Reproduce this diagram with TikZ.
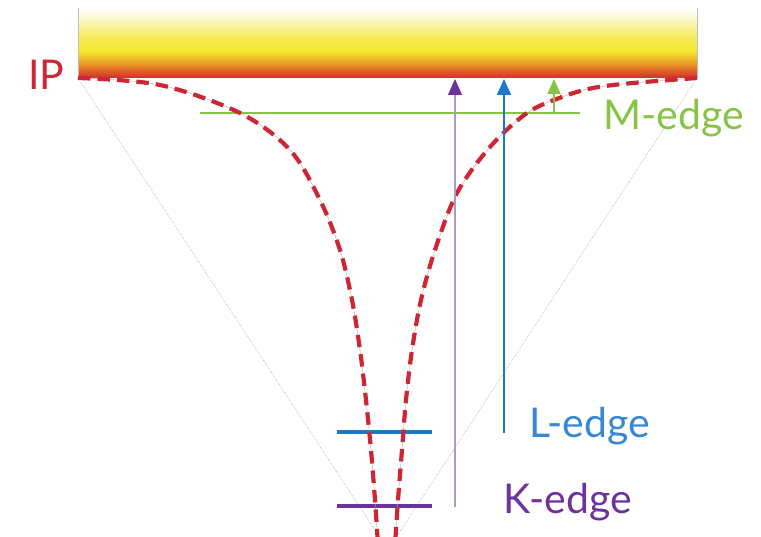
\documentclass[tikz,border=0pt]{standalone}
\usepackage{fontspec}
\setmainfont{Lato}
\usetikzlibrary{arrows.meta}
\definecolor{ipred}{RGB}{205,38,52}
\definecolor{mgreen}{RGB}{135,196,70}
\definecolor{lblue}{RGB}{30,120,200}
\definecolor{ltext}{RGB}{55,135,210}
\definecolor{kpurple}{RGB}{110,50,155}
\definecolor{klight}{RGB}{175,150,205}
\definecolor{bred}{RGB}{210,45,45}
\definecolor{bred2}{RGB}{220,85,40}
\definecolor{borange}{RGB}{232,150,40}
\definecolor{byellow}{RGB}{246,230,45}
\definecolor{byellow2}{RGB}{246,236,90}
\definecolor{bpale}{RGB}{251,246,200}
\pgfdeclareverticalshading{barshade}{100bp}{color(0bp)=(bred); color(25bp)=(bred); color(29bp)=(bred2); color(35bp)=(borange); color(44bp)=(byellow); color(54bp)=(byellow2); color(67bp)=(bpale); color(75bp)=(white); color(100bp)=(white)}
\tikzset{
  lbl/.style={inner sep=0pt, anchor=base west, font=\fontsize{41}{41}\selectfont},
  redcurve/.style={draw=ipred, line width=4.2pt, dash pattern=on 12.5pt off 7pt},
  guide/.style={draw=gray!70, line width=0.35pt},
  conegray/.style={draw=gray!65, line width=0.6pt, densely dotted},
}
\begin{document}
\begin{tikzpicture}[x=1pt,y=-1pt]
\useasboundingbox (0,0) rectangle (761,537);
\clip (0,0) rectangle (761,537);
% bar
\shade[shading=barshade] (78,8) rectangle (697,78);
\draw[gray!50, line width=0.5pt] (78,8) -- (78,78) (697,8) -- (697,78);
\coordinate (ipL) at (78,78);
\coordinate (ipR) at (697,78);
\coordinate (apex) at (388,550);
% cone lines
\draw[conegray] (ipL) -- (apex);
\draw[conegray] (ipR) -- (apex);
% level lines
\coordinate (m1) at (200,113); \coordinate (m2) at (580,113);
\coordinate (l1) at (337,432); \coordinate (l2) at (432,432);
\coordinate (k1) at (337,506); \coordinate (k2) at (432,506);
\draw[mgreen, line width=2pt] (m1) -- (m2);
\draw[lblue, line width=3.5pt] (l1) -- (l2);
\draw[kpurple, line width=4pt] (k1) -- (k2);
% potential curves
\def\leftcurve{(78,78) (160,85) (240,113) (290,150) (320,200) (340,250) (352,300) (360,350) (366,400) (371,450) (375,500) (378,545)}
\def\rightcurve{(697,78) (633,83) (593,88) (562,97) (527,113) (490,147) (457,193) (435,250) (421,300) (412,350) (406,400) (402,450) (398,500) (395,545)}
\draw[guide] plot[smooth, tension=0.55] coordinates {\leftcurve};
\draw[guide] plot[smooth, tension=0.55] coordinates {\rightcurve};
\draw[redcurve] plot[smooth, tension=0.55] coordinates {\leftcurve};
\draw[redcurve] plot[smooth, tension=0.55] coordinates {\rightcurve};
% arrows
\coordinate (kb) at (455,507); \coordinate (kt) at (455,79);
\coordinate (lb) at (504,433); \coordinate (lt) at (504,79);
\coordinate (mb) at (554,113); \coordinate (mt) at (554,79);
\draw[klight, line width=1.2pt, -{Triangle[width=14pt,length=16pt,color=kpurple]}] (kb) -- (kt);
\draw[lblue, line width=2.2pt, -{Triangle[width=14pt,length=16pt]}] (lb) -- (lt);
\draw[mgreen, line width=2pt, -{Triangle[width=13pt,length=15pt]}] (mb) -- (mt);
% labels
\node[lbl, text=ipred] (ip) at (28,90) {IP};
\node[lbl, text=mgreen] (mlab) at (603,130) {M-edge};
\node[lbl, text=ltext] (llab) at (529,438) {L-edge};
\node[lbl, text=kpurple] (klab) at (503,513) {K-edge};
\end{tikzpicture}
\end{document}
